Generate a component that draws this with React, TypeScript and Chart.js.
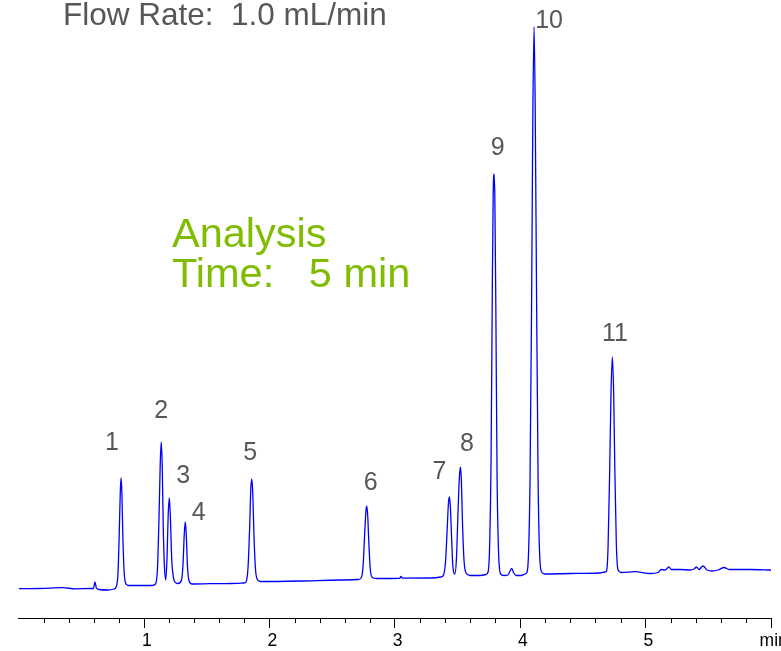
import { useEffect, useRef } from 'react';
import { Chart, registerables } from 'chart.js';

Chart.register(...registerables);

// Detector trace: retention time (min) and signal (arbitrary units)
const timeMin = [
  0.0, 0.169, 0.352, 0.448, 0.567, 0.596, 0.607, 0.619, 0.639, 0.711, 0.759,
  0.779, 0.791, 0.801, 0.809, 0.815, 0.822, 0.829, 0.839, 0.851, 0.871,
  0.966, 1.062, 1.09, 1.106, 1.118, 1.128, 1.136, 1.144, 1.152, 1.162, 1.172,
  1.182, 1.191, 1.2, 1.209, 1.219, 1.234, 1.254, 1.27,
  1.298, 1.31, 1.32, 1.328, 1.336, 1.345, 1.358, 1.381,
  1.525, 1.685, 1.796, 1.812, 1.828, 1.841, 1.85, 1.858, 1.866, 1.875, 1.887, 1.9, 1.924,
  2.243, 2.562, 2.706, 2.73, 2.746, 2.759, 2.768, 2.775, 2.783, 2.792, 2.804, 2.821, 2.849,
  3.037, 3.049, 3.061, 3.28, 3.368,
  3.388, 3.404, 3.418, 3.427, 3.434, 3.442, 3.452, 3.462, 3.478,
  3.491, 3.503, 3.514, 3.522, 3.53, 3.539, 3.551, 3.567, 3.599, 3.679, 3.727,
  3.743, 3.755, 3.767, 3.777, 3.784, 3.791, 3.797, 3.805, 3.815, 3.827, 3.843, 3.87,
  3.902, 3.918, 3.932, 3.946, 3.966, 4.006, 4.038,
  4.054, 4.066, 4.078, 4.09, 4.1, 4.11, 4.119, 4.13, 4.142, 4.154, 4.17, 4.197,
  4.397, 4.636, 4.676,
  4.688, 4.7, 4.712, 4.723, 4.734, 4.745, 4.754, 4.766, 4.78, 4.804,
  4.915, 5.035, 5.099, 5.123, 5.155, 5.186, 5.203, 5.274, 5.354, 5.386, 5.406,
  5.426, 5.458, 5.49, 5.53, 5.578, 5.626, 5.666, 5.753, 5.833, 6.0,
];

const signal = [
  -0.7, -0.5, 0.3, -0.8, -0.5, -0.5, 6, 0, -1.5, -2, -1,
  2, 15, 55, 95, 110, 95, 55, 18, 5, 2.5,
  2.5, 2.5, 4, 20, 70, 125, 146, 120, 60, 20, 8,
  30, 72, 90, 70, 30, 10, 5, 4.5,
  8, 25, 55, 66, 52, 22, 7, 4,
  4.3, 4.5, 5, 6, 20, 60, 98, 109, 95, 55, 20, 9, 6.5,
  7, 8, 8.5, 10, 22, 55, 76, 82, 72, 45, 18, 10.5, 9.5,
  9.7, 11.5, 9.8, 10, 11,
  13, 27, 62, 85, 91, 82, 50, 22, 14,
  30, 75, 110, 121, 108, 65, 28, 15, 12.5, 12.5, 13.5,
  16, 40, 130, 300, 395, 414, 390, 280, 110, 35, 14, 12.5,
  13, 17, 19.5, 15.5, 12.5, 12.5, 14,
  16, 35, 110, 280, 470, 561, 480, 290, 110, 35, 16, 14,
  14.5, 15, 16,
  17, 40, 110, 190, 231, 195, 120, 45, 18, 15.5,
  16.3, 14.5, 15.5, 18.5, 18, 21, 18.5, 18.5, 18, 19, 21,
  18.5, 22, 18, 17, 18, 20.5, 18.5, 18.5, 18.5, 18,
];

// Numbered peaks: apex time and apex signal
const peakNumbers = ['1', '2', '3', '4', '5', '6', '7', '8', '9', '10', '11'];
const peakTimes = [0.815, 1.136, 1.2, 1.328, 1.858, 2.775, 3.434, 3.522, 3.791, 4.11, 4.734];
const peakHeights = [110, 146, 90, 66, 109, 82, 91, 121, 414, 561, 231];

// Pixel shift of each peak number from its apex (x, baseline y)
const labelOffsets: [number, number][] = [
  [-9, -28], [0, -24.5], [14, -15], [13.5, -2], [-1.5, -19], [4, -16],
  [-10, -18], [6.5, -16], [3.5, -19], [15, 0.7], [2.7, -16],
];

const xMin = 0;
const xMax = 6;
const xStep = 0.2;
const axisUnit = 'min';

const flowRateText = 'Flow Rate:  1.0 mL/min';
const analysisLines = ['Analysis', 'Time:   5 min'];

const FONT = '"Liberation Sans", Arial, Helvetica, sans-serif';

const isMajor = (v: number) => Math.abs(v - Math.round(v)) < 1e-6;

const annotationPlugin = {
  id: 'chromAnnotations',
  afterDraw(chart: any) {
    const { ctx, scales } = chart;
    const xs = scales.x;
    const ys = scales.y;

    // minor tick marks on the time axis
    ctx.save();
    ctx.strokeStyle = '#000';
    ctx.lineWidth = 1;
    const axisY = xs.top;
    xs.ticks.forEach((tk: any) => {
      if (isMajor(tk.value)) return;
      const px = Math.round(xs.getPixelForValue(tk.value)) + 0.5;
      ctx.beginPath();
      ctx.moveTo(px, axisY);
      ctx.lineTo(px, axisY + 5);
      ctx.stroke();
    });
    ctx.restore();

    // peak numbers
    ctx.save();
    ctx.fillStyle = '#575757';
    ctx.font = `25px ${FONT}`;
    ctx.textAlign = 'center';
    ctx.textBaseline = 'alphabetic';
    peakNumbers.forEach((n, i) => {
      const px = xs.getPixelForValue(peakTimes[i]) + labelOffsets[i][0];
      const py = ys.getPixelForValue(peakHeights[i]) + labelOffsets[i][1];
      ctx.fillText(n, px, py);
    });
    ctx.restore();

    // method notes
    ctx.save();
    ctx.textAlign = 'left';
    ctx.textBaseline = 'alphabetic';
    ctx.fillStyle = '#575757';
    ctx.font = `31.5px ${FONT}`;
    ctx.fillText(flowRateText, 63, 25);
    ctx.fillStyle = '#80bc00';
    ctx.font = `41.5px ${FONT}`;
    ctx.fillText(analysisLines[0], 172, 247);
    ctx.fillText(analysisLines[1], 172, 287);
    ctx.restore();
  },
};

export default function App() {
  const canvasRef = useRef<HTMLCanvasElement | null>(null);

  useEffect(() => {
    const canvas = canvasRef.current;
    if (!canvas) return;
    const chart = new Chart(canvas, {
      type: 'line',
      data: {
        datasets: [
          {
            data: timeMin.map((t, i) => ({ x: t, y: signal[i] })),
            borderColor: '#0000ff',
            borderWidth: 1.3,
            pointRadius: 0,
            fill: false,
            cubicInterpolationMode: 'monotone',
          },
        ],
      },
      options: {
        animation: false,
        responsive: false,
        devicePixelRatio: 1,
        layout: { padding: { left: 18.85, right: 29, top: 0, bottom: 0 } },
        plugins: {
          legend: { display: false },
          tooltip: { enabled: false },
        },
        scales: {
          x: {
            type: 'linear',
            position: 'bottom',
            min: xMin,
            max: xMax,
            grid: {
              display: true,
              drawOnChartArea: false,
              drawTicks: true,
              tickLength: 10,
              tickWidth: 1,
              tickColor: (c: any) =>
                c.tick && isMajor(c.tick.value) && c.tick.value !== xMin ? '#000' : 'rgba(0,0,0,0)',
            },
            border: { display: true, color: '#000', width: 1 },
            ticks: {
              stepSize: xStep,
              autoSkip: false,
              maxRotation: 0,
              padding: 3,
              labelOffset: 2.7,
              color: '#000',
              font: { family: FONT, size: 17.5 },
              callback: (v: any) => {
                const n = Number(v);
                if (!isMajor(n) || n === xMin) return '';
                if (n === xMax) return axisUnit;
                return String(Math.round(n));
              },
            },
          },
          y: {
            type: 'linear',
            display: false,
            min: -30,
            max: 588,
          },
        },
      },
      plugins: [annotationPlugin],
    });
    return () => chart.destroy();
  }, []);

  return (
    <div
      style={{
        position: 'fixed',
        left: 0,
        top: 0,
        width: 781,
        height: 651,
        overflow: 'hidden',
        background: '#fff',
      }}
    >
      <canvas
        ref={canvasRef}
        width={800}
        height={655}
        style={{ display: 'block', width: 800, height: 655 }}
      />
    </div>
  );
}
